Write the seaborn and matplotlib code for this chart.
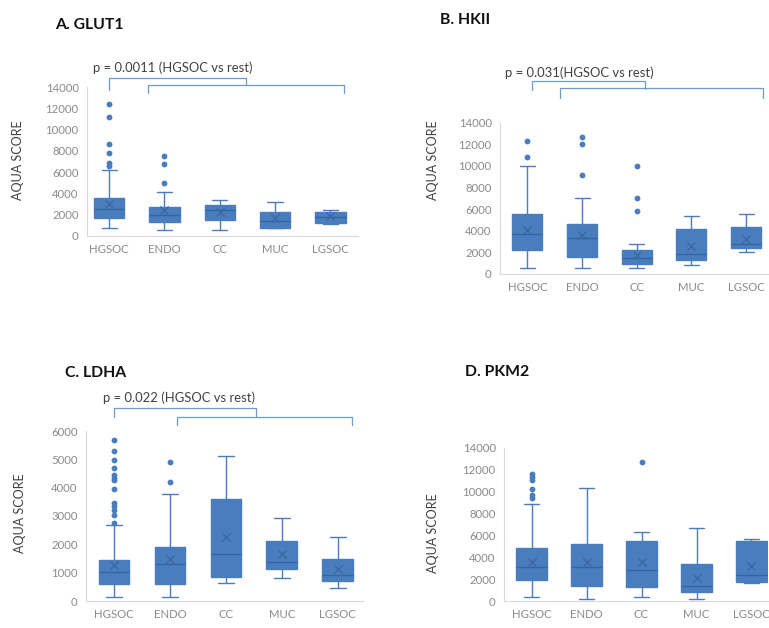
import numpy as np
import pandas as pd
import matplotlib
matplotlib.use("Agg")
import matplotlib.pyplot as plt
import seaborn as sns

# ---- data (AQUA scores) ----
GROUPS = ["HGSOC", "ENDO", "CC", "MUC", "LGSOC"]

# A. GLUT1
GLUT1_LOW = [720, 560, 560, 720, 1130]
GLUT1_Q1 = [1660, 1350, 1500, 720, 1250]
GLUT1_MED = [2500, 1980, 2450, 1450, 1820]
GLUT1_Q3 = [3550, 2760, 2920, 2300, 2300]
GLUT1_HIGH = [6200, 4100, 3400, 3230, 2450]
GLUT1_MEAN = [3000, 2400, 2300, 1660, 1900]
GLUT1_OUT = [[12400, 11200, 8600, 7800, 6900, 6600], [7470, 6750, 5000], [], [], []]

# B. HKII
HKII_LOW = [520, 520, 520, 830, 2000]
HKII_Q1 = [2220, 1600, 900, 1300, 2370]
HKII_MED = [3670, 3360, 1500, 1850, 2740]
HKII_Q3 = [5550, 4600, 2220, 4200, 4380]
HKII_HIGH = [10000, 7000, 2750, 5370, 5550]
HKII_MEAN = [4070, 3580, 1750, 2620, 3240]
HKII_OUT = [[12330, 10800], [12700, 12000, 9160], [10000, 7060, 5860], [], []]

# C. LDHA
LDHA_LOW = [150, 150, 650, 800, 450]
LDHA_Q1 = [590, 600, 860, 1130, 700]
LDHA_MED = [1040, 1300, 1660, 1360, 920]
LDHA_Q3 = [1450, 1920, 3590, 2120, 1470]
LDHA_HIGH = [2700, 3780, 5120, 2920, 2270]
LDHA_MEAN = [1270, 1470, 2250, 1650, 1120]
LDHA_OUT = [[5700, 5300, 4980, 4700, 4450, 4330, 4270, 3940, 3450, 3350, 3200, 3030, 2750],
            [4920, 4190], [], [], []]

# D. PKM2
PKM2_LOW = [400, 180, 400, 180, 1620]
PKM2_Q1 = [1930, 1410, 1250, 800, 1770]
PKM2_MED = [3150, 3150, 2840, 1410, 2380]
PKM2_Q3 = [4830, 5200, 5530, 3360, 5530]
PKM2_HIGH = [8870, 10330, 6300, 6660, 5690]
PKM2_MEAN = [3550, 3550, 3550, 2080, 3240]
PKM2_OUT = [[11650, 11340, 11040, 10270, 9720, 9420], [], [12720], [], []]

BLUE = "#4a7dbd"
DARK = "#36649e"
LINE = "#6d9ad3"
GREY = "#8a8a8a"

sns.set_style("white")
plt.rcParams["font.family"] = ["Lato", "DejaVu Sans"]

W, H = 769, 628
fig = plt.figure(figsize=(W / 100, H / 100), dpi=100)


def px_axes(left, right, bottom, top):
    return fig.add_axes([left / W, 1 - bottom / H, (right - left) / W, (bottom - top) / H])


def box_frame(low, q1, med, q3, high):
    rows = []
    for g, a, b, c, d, e in zip(GROUPS, low, q1, med, q3, high):
        for v in (a, b, c, d, e):
            rows.append({"group": g, "score": v})
    return pd.DataFrame(rows)


def point_frame(vals):
    rows = []
    for g, v in zip(GROUPS, vals):
        for x in (v if isinstance(v, list) else [v]):
            rows.append({"group": g, "score": x})
    return pd.DataFrame(rows, columns=["group", "score"])


def draw_panel(ax, low, q1, med, q3, high, mean, out, ymax, step, xlim):
    df = box_frame(low, q1, med, q3, high)
    sns.boxplot(data=df, x="group", y="score", order=GROUPS, whis=(0, 100),
                width=0.55, color=BLUE, saturation=1, linewidth=1, ax=ax,
                boxprops=dict(facecolor=BLUE, edgecolor=BLUE),
                whiskerprops=dict(color=BLUE), capprops=dict(color=BLUE),
                medianprops=dict(color=DARK, linewidth=1))
    od = point_frame(out)
    if len(od):
        sns.stripplot(data=od, x="group", y="score", order=GROUPS, jitter=False,
                      color=BLUE, size=4.2, linewidth=0, ax=ax)
    md = point_frame(mean)
    sns.stripplot(data=md, x="group", y="score", order=GROUPS, jitter=False,
                  color=DARK, marker="x", size=6, linewidth=0.8, ax=ax)
    ax.set_ylim(0, ymax)
    ax.set_xlim(*xlim)
    ax.set_yticks(np.arange(0, ymax + 1, step))
    ax.set_xlabel("")
    ax.set_ylabel("")
    for s in ["top", "right"]:
        ax.spines[s].set_visible(False)
    for s in ["left", "bottom"]:
        ax.spines[s].set_color("#d9d9d9")
        ax.spines[s].set_linewidth(0.8)
    ax.tick_params(length=0, labelsize=8.2, labelcolor=GREY, pad=6)


def bracket(ax, pts):
    xs, ys = zip(*pts)
    ax.plot(xs, ys, color=LINE, lw=0.9, clip_on=False)


def ptext(x, y, s, size=9.4):
    fig.text(x / W, 1 - y / H, s, fontsize=size, color="#404040", va="center", ha="left")


def ylab(x, y):
    fig.text(x / W, 1 - y / H, "AQUA SCORE", rotation=90, fontsize=9,
             color="#404040", va="center", ha="center")


def title(x, y, s):
    fig.text(x / W, 1 - y / H, s, fontsize=11.3, fontweight="bold",
             color="#111111", va="center", ha="left")


# A
axA = px_axes(87, 358, 236, 87)
draw_panel(axA, GLUT1_LOW, GLUT1_Q1, GLUT1_MED, GLUT1_Q3, GLUT1_HIGH,
           GLUT1_MEAN, GLUT1_OUT, 14000, 2000, (-0.4, 4.5))
bracket(axA, [(0, 13724), (0, 14824), (2.48, 14824), (2.48, 14194)])
bracket(axA, [(0.70, 13470), (0.70, 14194), (4.24, 14194), (4.24, 13470)])
ptext(93, 68, "p = 0.0011 (HGSOC vs rest)")
ylab(18, 160)
title(55, 25, "A. GLUT1")

# B
axB = px_axes(500, 768, 274, 122.7)
draw_panel(axB, HKII_LOW, HKII_Q1, HKII_MED, HKII_Q3, HKII_HIGH,
           HKII_MEAN, HKII_OUT, 14000, 2000, (-0.5, 4.4))
bracket(axB, [(0.08, 17020), (0.08, 17850), (2.15, 17850), (2.15, 17080)])
bracket(axB, [(0.6, 16250), (0.6, 17170), (4.3, 17170), (4.3, 16250)])
ptext(505, 73, "p = 0.031(HGSOC vs rest)")
ylab(433, 160)
title(440, 20, "B. HKII")

# C
axC = px_axes(86, 363, 601, 431)
draw_panel(axC, LDHA_LOW, LDHA_Q1, LDHA_MED, LDHA_Q3, LDHA_HIGH,
           LDHA_MEAN, LDHA_OUT, 6000, 1000, (-0.5, 4.45))
bracket(axC, [(0, 6506), (0, 6802), (2.54, 6802), (2.54, 6506)])
bracket(axC, [(1.12, 6213), (1.12, 6506), (4.25, 6506), (4.25, 6213)])
ptext(103, 398, "p = 0.022 (HGSOC vs rest)")
ylab(20, 513)
title(65, 373, "C. LDHA")

# D
axD = px_axes(504, 768, 601, 448)
draw_panel(axD, PKM2_LOW, PKM2_Q1, PKM2_MED, PKM2_Q3, PKM2_HIGH,
           PKM2_MEAN, PKM2_OUT, 14000, 2000, (-0.5, 4.3))
ylab(433, 533)
title(465, 372, "D. PKM2")

fig.savefig("out.png", dpi=100)
